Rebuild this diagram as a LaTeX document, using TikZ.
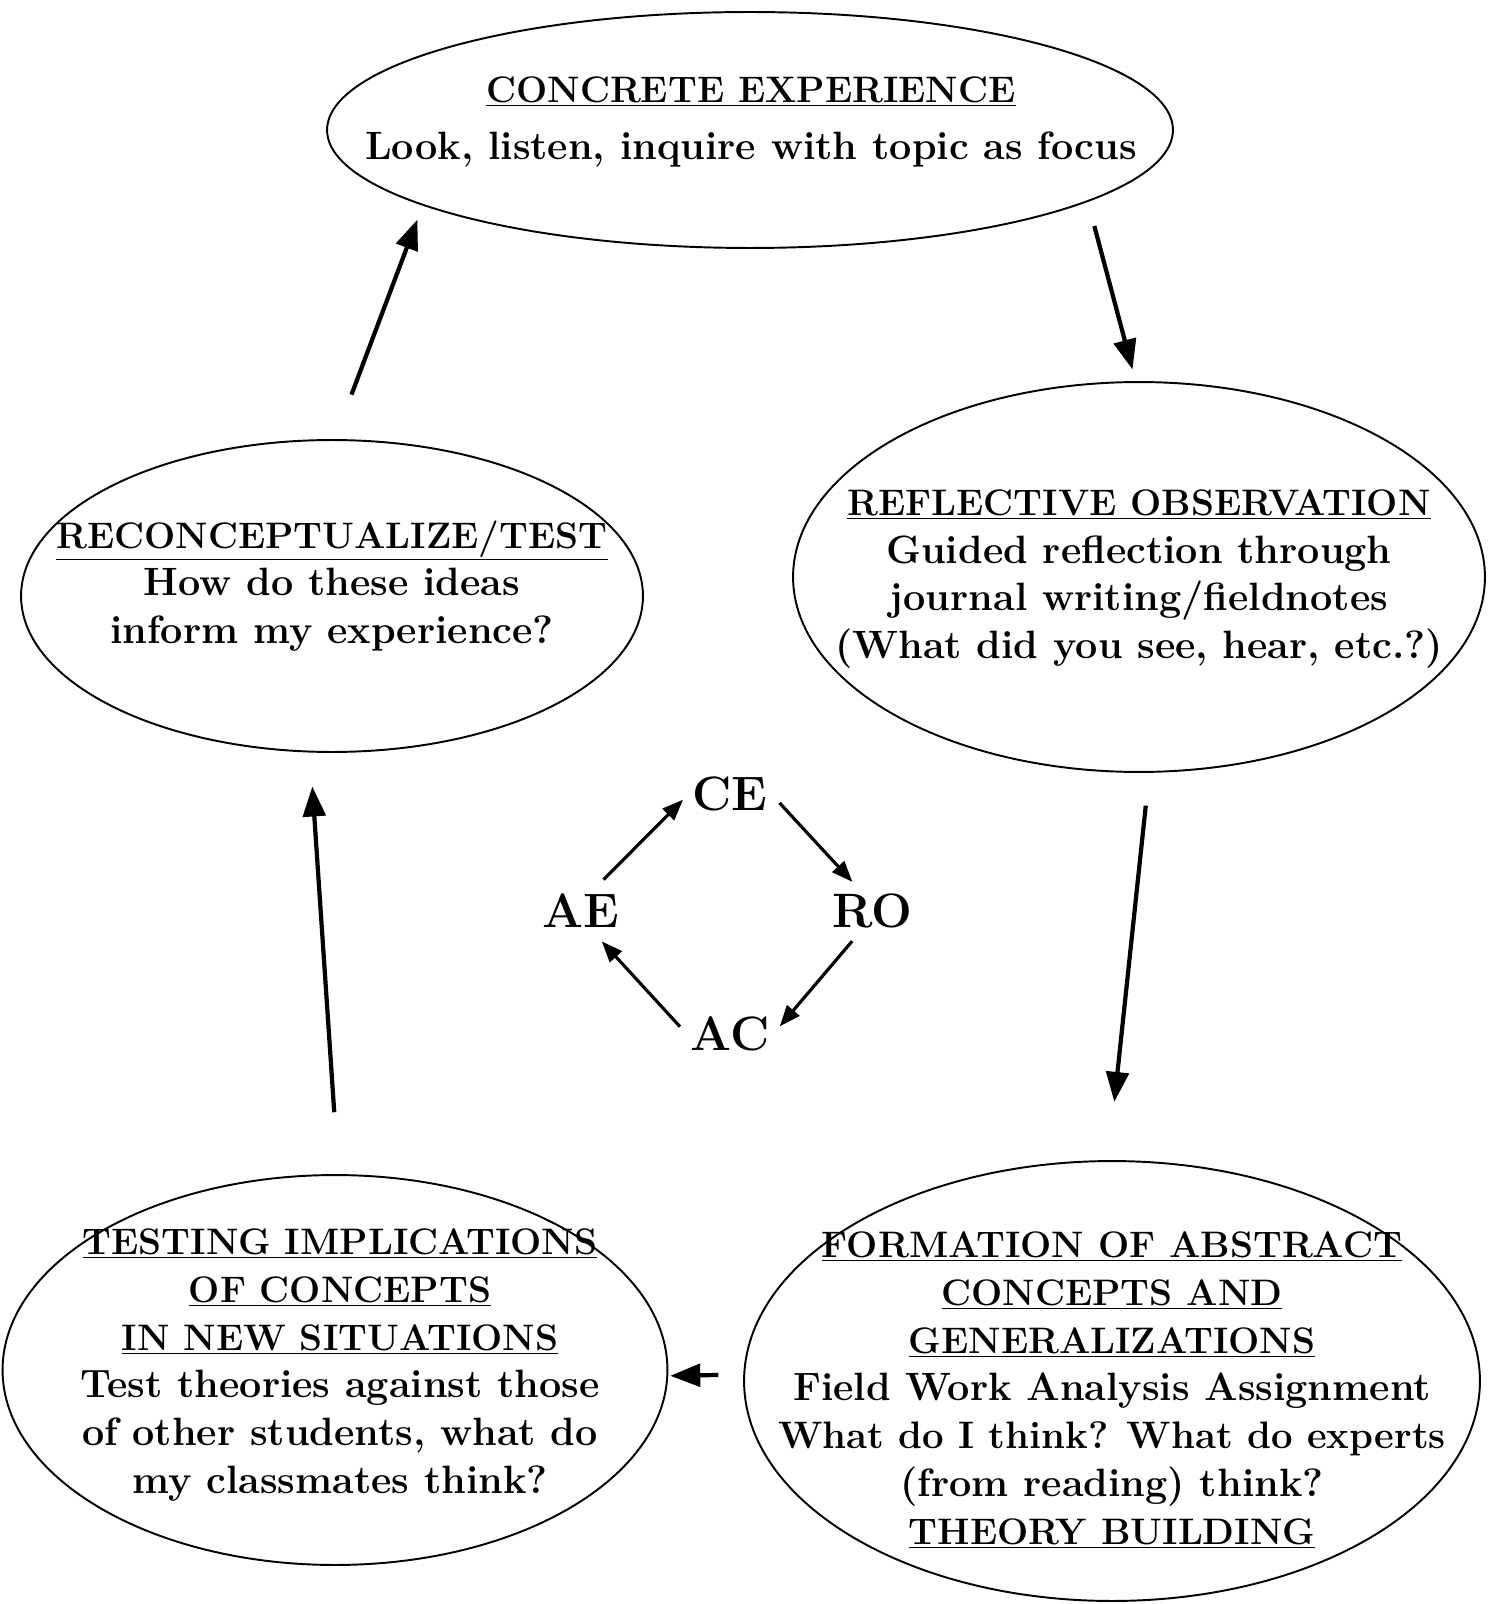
\documentclass[tikz,border=0pt]{standalone}
\usetikzlibrary{arrows.meta, shapes.geometric}

\newcommand{\stagetitle}[1]{{\fontsize{21}{27.2}\selectfont\underline{#1}}}

\tikzset{
  stage/.style={draw, ellipse, line width=1.1pt, inner sep=0pt},
  words/.style={align=center, font=\fontsize{22.5}{27.2}\selectfont\bfseries},
  cyc/.style={font=\fontsize{27.5}{30}\selectfont\bfseries, inner sep=2pt},
  flow/.style={->, line width=2.4pt},
  minor/.style={-{Triangle[length=0.42cm,width=0.32cm]}, line width=1.8pt}
}

\begin{document}
\begin{tikzpicture}[x=0.02cm, y=-0.02cm, >={Triangle[length=0.6cm,width=0.45cm]}]
  \useasboundingbox (0,0) rectangle (1494,1604);

  %% the four stages (and the one at the top)
  \node (conc)  at (750,130)  [stage, minimum width=16.92cm, minimum height=4.72cm] {};
  \node (recon) at (332,596)  [stage, minimum width=12.44cm, minimum height=6.24cm] {};
  \node (refl)  at (1139,577) [stage, minimum width=13.84cm, minimum height=7.8cm] {};
  \node (test)  at (335,1370) [stage, minimum width=13.3cm, minimum height=7.8cm] {};
  \node (abst)  at (1112,1381) [stage, minimum width=14.72cm, minimum height=8.8cm] {};

  \node (conc-txt) at (751,122) [words]
    {\stagetitle{CONCRETE EXPERIENCE}\\[0.18cm]
     Look, listen, inquire with topic as focus};
  \node (recon-txt) at (332,586) [words]
    {\stagetitle{RECONCEPTUALIZE/TEST}\\
     How do these ideas\\ inform my experience?};
  \node (refl-txt) at (1139,579) [words]
    {\stagetitle{REFLECTIVE OBSERVATION}\\
     Guided reflection through\\ journal writing/fieldnotes\\
     (What did you see, hear, etc.?)};
  \node (test-txt) at (340,1365) [words]
    {\stagetitle{TESTING IMPLICATIONS}\\ \stagetitle{OF CONCEPTS}\\
     \stagetitle{IN NEW SITUATIONS}\\
     Test theories against those\\ of other students, what do\\
     my classmates think?};
  \node (abst-txt) at (1112,1390) [words]
    {\stagetitle{FORMATION OF ABSTRACT}\\ \stagetitle{CONCEPTS AND}\\
     \stagetitle{GENERALIZATIONS}\\
     Field Work Analysis Assignment\\
     {\fontsize{21.8}{27.2}\selectfont What do I think?\ \hspace{0.1em}What do experts}\\
     (from reading) think?\\ \stagetitle{THEORY BUILDING}};

  %% small cycle in the middle
  \node (ce) at (730,794) [cyc] {CE};
  \node (ro) at (872,911) [cyc] {RO};
  \node (ac) at (730,1034) [cyc] {AC};
  \node (ae) at (581,911) [cyc] {AE};

  \draw[minor, shorten <=0.3cm, shorten >=0.16cm] (ae.60) -- (ce.west);
  \draw[minor, shorten <=0.24cm, shorten >=0.22cm] (ce.east) -- (ro.120);
  \draw[minor, shorten <=0.24cm, shorten >=0.2cm] (ro.240) -- (ac.east);
  \draw[minor, shorten <=0.2cm, shorten >=0.26cm] (ac.west) -- (ae.300);

  %% big cycle
  \draw[flow, shorten <=0.5cm, shorten >=0.24cm] (conc.-12.4) -- (refl.91);
  \draw[flow, shorten <=0.66cm, shorten >=1.17cm] (refl.-87) -- (abst.91.8);
  \draw[flow, shorten <=0.5cm, shorten >=0.04cm] (abst.179.2) -- (test.-1);
  \draw[flow, shorten <=1.24cm, shorten >=0.68cm] (test.89.2) -- (recon.262.7);
  \draw[flow, shorten <=0.95cm, shorten >=0.3cm] (recon.89) -- (conc.193.8);
\end{tikzpicture}
\end{document}
